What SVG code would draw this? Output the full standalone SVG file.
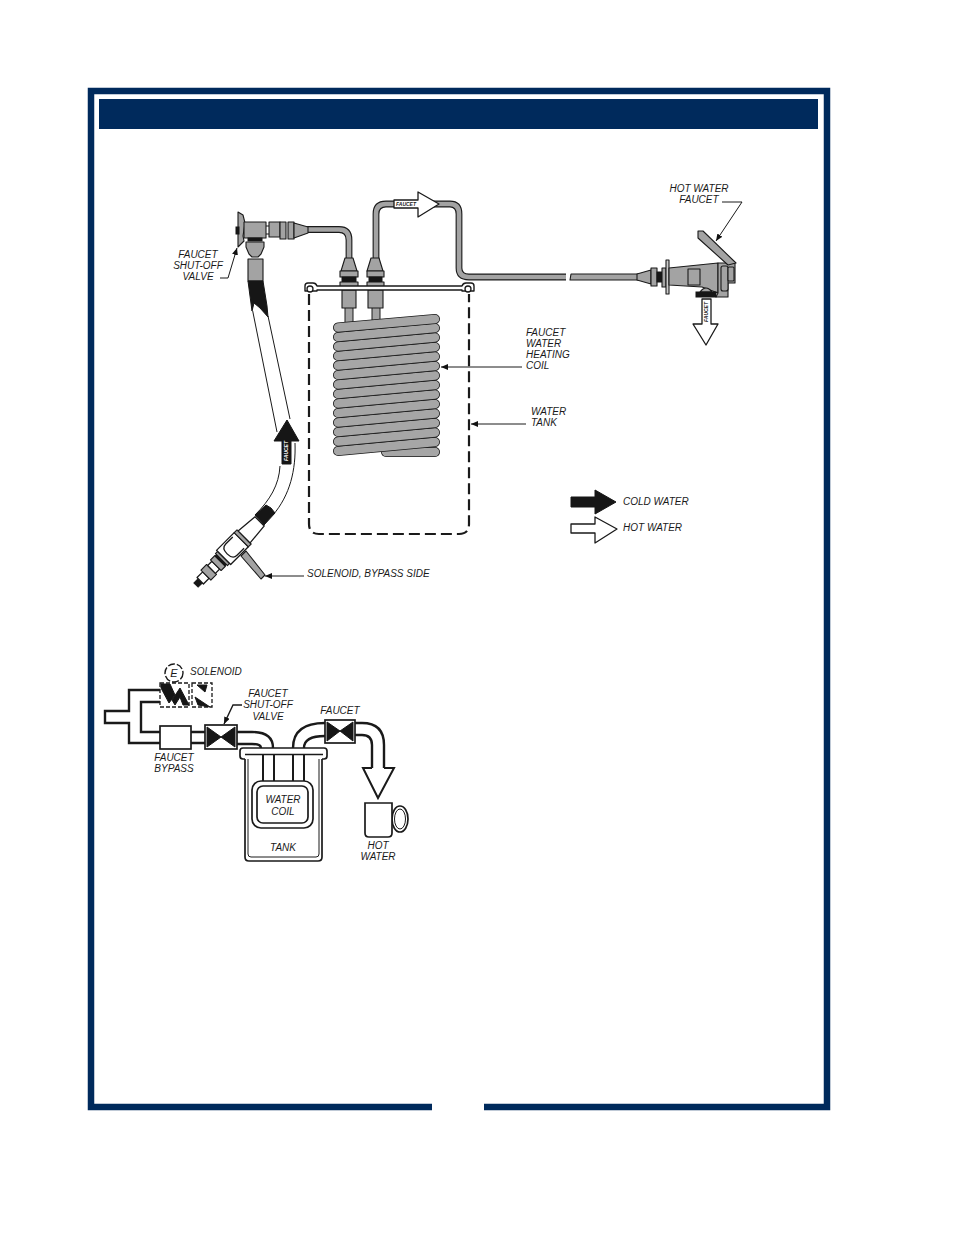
<svg xmlns="http://www.w3.org/2000/svg" width="954" height="1235" viewBox="0 0 954 1235">
<defs>
<marker id="ah" markerUnits="userSpaceOnUse" markerWidth="8" markerHeight="6" refX="7" refY="3" orient="auto"><path d="M0 0L7 3L0 6Z" fill="#111"/></marker>
</defs>
<style>
text{font-family:"Liberation Sans",Arial,sans-serif;font-style:italic;font-size:10px;fill:#1a1a1a}
.c{text-anchor:middle}
.tiny{font-size:5px;font-weight:bold;font-style:italic}
.pipeo{fill:none;stroke:#1a1a1a;stroke-width:6.8}
.pipei{fill:none;stroke:#a3a3a3;stroke-width:4.6}
.stubo{fill:none;stroke:#1a1a1a;stroke-width:9}
.stubi{fill:none;stroke:#a3a3a3;stroke-width:7}
.g{fill:#a3a3a3;stroke:#1a1a1a;stroke-width:1.1;stroke-linejoin:round}
.b{fill:#161616;stroke:#161616;stroke-width:1}
.w{fill:#fff;stroke:#1a1a1a;stroke-width:1.3;stroke-linejoin:round}
.l{fill:none;stroke:#1a1a1a;stroke-width:1}
.s{fill:none;stroke:#1a1a1a;stroke-width:2.4}
.s2{fill:#fff;stroke:#1a1a1a;stroke-width:1.7}
.coilo{stroke:#1a1a1a;stroke-width:10;stroke-linecap:round;fill:none}
.coili{stroke:#a6a6a6;stroke-width:8.4;stroke-linecap:round;fill:none}
.frame{fill:none;stroke:#002a5c;stroke-width:6.5}
</style>
<g id="frame">
<path class="frame" d="M432 1107H91V91H827V1107H484"/>
<rect x="99" y="99" width="719" height="30" fill="#002a5c"/>
</g>
<g id="connectors">
<path class="l" d="M522 367H441" marker-end="url(#ah)"/>
<path class="l" d="M526 424H471" marker-end="url(#ah)"/>
<path class="l" d="M304 576H265" marker-end="url(#ah)"/>
<path class="l" d="M220 278H228L237 248" marker-end="url(#ah)"/>
<path class="l" d="M722 202H742L716 241" stroke="#555" marker-end="url(#ah)"/>
<path class="l" d="M242 705H233L224 724" marker-end="url(#ah)" style="stroke-width:1.4"/>
</g>
<g id="water-tank">
<path d="M309 294V524Q309 534 319 534H459Q469 534 469 524V294" fill="none" stroke="#1a1a1a" stroke-width="2.2" stroke-dasharray="11 5"/>
</g>
<g id="heating-coil">
<path class="stubo" d="M349 306V326M376 306V326"/>
<path class="stubi" d="M349 306V326M376 306V326"/>
<path class="coilo" d="M386 452H435"/><path class="coili" d="M386 452H435"/>
<path class="coilo" d="M338 451L435 442"/><path class="coili" d="M338 451L435 442"/>
<path class="coilo" d="M338 441.500L435 432.500"/><path class="coili" d="M338 441.500L435 432.500"/>
<path class="coilo" d="M338 432L435 423"/><path class="coili" d="M338 432L435 423"/>
<path class="coilo" d="M338 422.500L435 413.500"/><path class="coili" d="M338 422.500L435 413.500"/>
<path class="coilo" d="M338 413L435 404"/><path class="coili" d="M338 413L435 404"/>
<path class="coilo" d="M338 403.500L435 394.500"/><path class="coili" d="M338 403.500L435 394.500"/>
<path class="coilo" d="M338 394L435 385"/><path class="coili" d="M338 394L435 385"/>
<path class="coilo" d="M338 384.500L435 375.500"/><path class="coili" d="M338 384.500L435 375.500"/>
<path class="coilo" d="M338 375L435 366"/><path class="coili" d="M338 375L435 366"/>
<path class="coilo" d="M338 365.500L435 356.500"/><path class="coili" d="M338 365.500L435 356.500"/>
<path class="coilo" d="M338 356L435 347"/><path class="coili" d="M338 356L435 347"/>
<path class="coilo" d="M338 346.500L435 337.500"/><path class="coili" d="M338 346.500L435 337.500"/>
<path class="coilo" d="M338 337L435 328"/><path class="coili" d="M338 337L435 328"/>
<path class="coilo" d="M338 327.500L435 319"/><path class="coili" d="M338 327.500L435 319"/>
</g>
<g id="pipes">
<path class="pipeo" d="M306 229.500H339Q349 229.500 349 240V259M376 259V214Q376 204 386 204H450Q459 204 459 214V268Q459 277 469 277H566"/>
<path class="pipei" d="M306 229.500H339Q349 229.500 349 240V259M376 259V214Q376 204 386 204H450Q459 204 459 214V268Q459 277 469 277H566"/>
<path class="g" d="M571 274H638V280H570Z"/>
</g>
<g id="tank-fittings">
<g id="fitting-1"><path class="g" d="M345 258H353L357 271H341Z"/><rect class="g" x="340" y="271" width="18" height="6"/><rect class="b" x="342" y="277" width="14" height="5"/><rect class="g" x="340" y="282" width="18" height="5"/><rect class="g" x="342" y="290" width="14" height="18"/></g>
<g id="fitting-2"><path class="g" d="M371 258H379L383 271H367Z"/><rect class="g" x="367" y="271" width="17" height="6"/><rect class="b" x="369" y="277" width="13" height="5"/><rect class="g" x="367" y="282" width="17" height="5"/><rect class="g" x="368" y="290" width="15" height="18"/></g>
<path class="w" style="stroke-width:1.4" d="M305 291V286Q305 283 308 283H313Q316 283 317 286H462Q463 283 466 283H471Q474 283 474 286V291H462V290H317V291Z"/>
<circle class="w" cx="310" cy="289" r="3"/>
<circle class="w" cx="468" cy="289" r="3"/>
</g>
<g id="top-flow-arrow">
<path class="w" d="M394 200H418V192L439 204L418 217V208H394Z"/>
<text class="tiny c" x="406" y="206">FAUCET</text>
</g>
<g id="shutoff-valve">
<path class="g" d="M238 212L243 215L245 223L243 236L244 241L238 247Z"/>
<rect class="b" x="236" y="227" width="3" height="7"/>
<rect class="g" x="244" y="222" width="22" height="16"/>
<path class="l" d="M266 226H269M266 234H269"/>
<rect class="g" x="269" y="222" width="11" height="15"/>
<rect class="g" x="280" y="222" width="6" height="17"/>
<rect class="g" x="288" y="222" width="6" height="17"/>
<path class="g" d="M294 223L308 227V233L294 238Z"/>
<rect class="b" x="248" y="238" width="14" height="3"/>
<path class="g" d="M246 242H264V247L261 254L258 257H252L249 254L246 247Z"/>
</g>
<g id="hose">
<path class="g" d="M248 259H263V281H248Z"/>
<path class="b" d="M248 281H263L267 306L268 317L260 308L254 303L252 311Z"/>
<path class="l" d="M252.700 311L277 432M268 316L290 419"/>
<path class="l" d="M280 466C279 485 270 500 255 515M295 443C296 470 290 495 273 515"/>
<path class="b" d="M255 515L266 505L271 508L275 513L264 525Z"/>
</g>
<g id="cold-flow-arrow">
<path class="b" d="M287 420L299 441H291V464H282V441H274Z"/>
<text class="tiny c" style="fill:#fff" transform="translate(288 451) rotate(-90)" x="0" y="0">FAUCET</text>
</g>
<g id="bypass-fitting">
<path class="g" d="M241 556L246 551L265 575L261 579Z"/>
<g transform="translate(196 585) rotate(-45)">
<rect class="b" x="0" y="-3" width="6" height="6"/>
<rect class="w" x="6" y="-4.500" width="8" height="9"/>
<rect class="g" x="14" y="-7" width="8" height="14"/>
<rect class="w" x="22" y="-5.500" width="6" height="11"/>
<rect class="g" x="28" y="-7.500" width="6" height="15"/>
<rect class="b" x="34" y="-7" width="2" height="14"/>
<rect class="g" x="36" y="-8.500" width="3" height="17"/>
<rect class="w" x="39" y="-10" width="25" height="20"/>
<path class="w" d="M60 -8H50Q44 -8 44 0Q44 8 50 8H60"/>
<rect class="g" x="64" y="-10" width="4" height="20"/>
<path class="w" d="M68 -8.500L90 -6.500V6.500L68 8.500Z"/>
</g>
</g>
<g id="hot-water-faucet">
<path class="g" d="M637 274L651 270V284L637 280Z"/>
<rect class="g" x="651" y="268" width="6" height="18"/>
<rect class="b" x="657" y="272" width="5" height="10"/>
<rect class="g" x="662" y="268" width="4" height="19"/>
<rect class="g" x="666" y="260" width="3" height="34" style="fill:#ccc"/>
<path class="g" d="M669 268L718 263V293L702 287L669 285Z"/>
<rect class="g" x="688" y="269" width="12" height="16"/>
<path class="g" d="M718 263H735V283H728V297H716L718 293Z"/>
<rect class="g" x="721" y="266" width="7" height="25" rx="2"/>
<rect class="g" x="728" y="267" width="6" height="14" rx="1"/>
<path class="g" d="M698 231L703 231L736 263L728 265L698 238Z"/>
<path class="g" d="M700 292Q706 284 712 292Z"/>
<rect class="b" x="696" y="292" width="20" height="5"/>
<path class="w" d="M702 299H711V324H718L706 345L693 324H702Z"/>
<text class="tiny c" transform="translate(708 312) rotate(-90)">FAUCET</text>
</g>
<g id="legend">
<path class="b" d="M571 497H595V490L616 502L595 514V507H571Z"/>
<path class="w" d="M571 524H595V517L617 529L595 543V533H571Z"/>
<text x="623" y="505">COLD WATER</text>
<text x="623" y="531">HOT WATER</text>
</g>
<g id="labels-top">
<text class="c" x="699" y="192">HOT WATER</text>
<text class="c" x="699" y="203">FAUCET</text>
<text class="c" x="198" y="258">FAUCET</text>
<text class="c" x="198" y="269">SHUT-OFF</text>
<text class="c" x="198" y="280">VALVE</text>
<text x="526" y="336">FAUCET</text>
<text x="526" y="347">WATER</text>
<text x="526" y="358">HEATING</text>
<text x="526" y="369">COIL</text>
<text x="531" y="415">WATER</text>
<text x="531" y="426">TANK</text>
<text x="307" y="577">SOLENOID, BYPASS SIDE</text>
</g>
<g id="schematic-pipes">
<path class="s" d="M160 690H129V711H105V723H129V743H160M160 702H141V732H160"/>
<path class="s" d="M191 732H205M191 743H205M237 732H252Q273 732 273 748M237 744H252Q261 744 261 748"/>
<path class="s" d="M293 748Q293 723 325 723M304 748Q304 736 325 736"/>
<path class="s" d="M355 723H362Q384 723 384 745V768M355 735H362Q372 735 372 745V768"/>
</g>
<g id="solenoid">
<rect x="160" y="683" width="29" height="24" fill="#fff" stroke="#1a1a1a" stroke-width="1.3" stroke-dasharray="4 2"/>
<rect x="192" y="683" width="20" height="24" fill="#fff" stroke="#1a1a1a" stroke-width="1.3" stroke-dasharray="4 2"/>
<path class="b" d="M161 684L170 684L175 695L169 703L161 688ZM172 700L180 688L189 705H183L180 697L175 705ZM197 685L207 685L205 692ZM195 697L210 707L198 705Z"/>
<circle cx="174" cy="673" r="9" fill="none" stroke="#1a1a1a" stroke-width="1.4" stroke-dasharray="7 2"/>
<text class="c" x="174" y="677" style="font-size:11px">E</text>
<text x="190" y="675">SOLENOID</text>
</g>
<g id="faucet-bypass">
<rect class="s2" x="160" y="726" width="31" height="23"/>
<text class="c" x="174" y="761">FAUCET</text>
<text class="c" x="174" y="772">BYPASS</text>
</g>
<g id="shutoff-symbol">
<rect class="s2" x="205" y="725" width="32" height="24"/>
<path class="b" d="M207 727L221 737L207 747ZM235 727L221 737L235 747Z"/>
<text class="c" x="268" y="697">FAUCET</text>
<text class="c" x="268" y="708">SHUT-OFF</text>
<text class="c" x="268" y="720">VALVE</text>
</g>
<g id="faucet-symbol">
<rect class="s2" x="325" y="720" width="30" height="23"/>
<path class="b" d="M327 722L340 731L327 741ZM353 722L340 731L353 741Z"/>
<text class="c" x="340" y="714">FAUCET</text>
</g>
<g id="tank-symbol">
<path class="s2" d="M245 758V857Q245 861 249 861H318Q322 861 322 857V758"/>
<path d="M248 755V854Q248 857 251 857H316Q319 857 319 854V755" fill="none" stroke="#1a1a1a" stroke-width="1"/>
<path class="s2" d="M245 759H243Q240 759 240 756V751Q240 748 243 748H324Q327 748 327 751V756Q327 759 324 759H322"/>
<path d="M245 754.500H323" stroke="#1a1a1a" stroke-width="1.6"/>
<path d="M263 754V781M274 754V781M293 754V781M304 754V781" stroke="#1a1a1a" stroke-width="2" fill="none"/>
<rect class="s2" x="252" y="781" width="61" height="47" rx="9"/>
<rect class="s2" x="257" y="786" width="51" height="37" rx="6"/>
<text class="c" x="283" y="803">WATER</text>
<text class="c" x="283" y="815">COIL</text>
<text class="c" x="283" y="851">TANK</text>
</g>
<g id="hot-water-outlet">
<path d="M372 768H363L378 798L394 768H384" fill="#fff" stroke="#1a1a1a" stroke-width="2"/>
<ellipse cx="400" cy="819" rx="8" ry="13" class="s2"/>
<ellipse cx="400" cy="819" rx="5.500" ry="10" class="s2" style="stroke-width:1"/>
<path d="M365 803H392V833Q392 837 388 837H369Q365 837 365 833Z" class="s2"/>
<text class="c" x="378" y="849">HOT</text>
<text class="c" x="378" y="860">WATER</text>
</g>
</svg>
